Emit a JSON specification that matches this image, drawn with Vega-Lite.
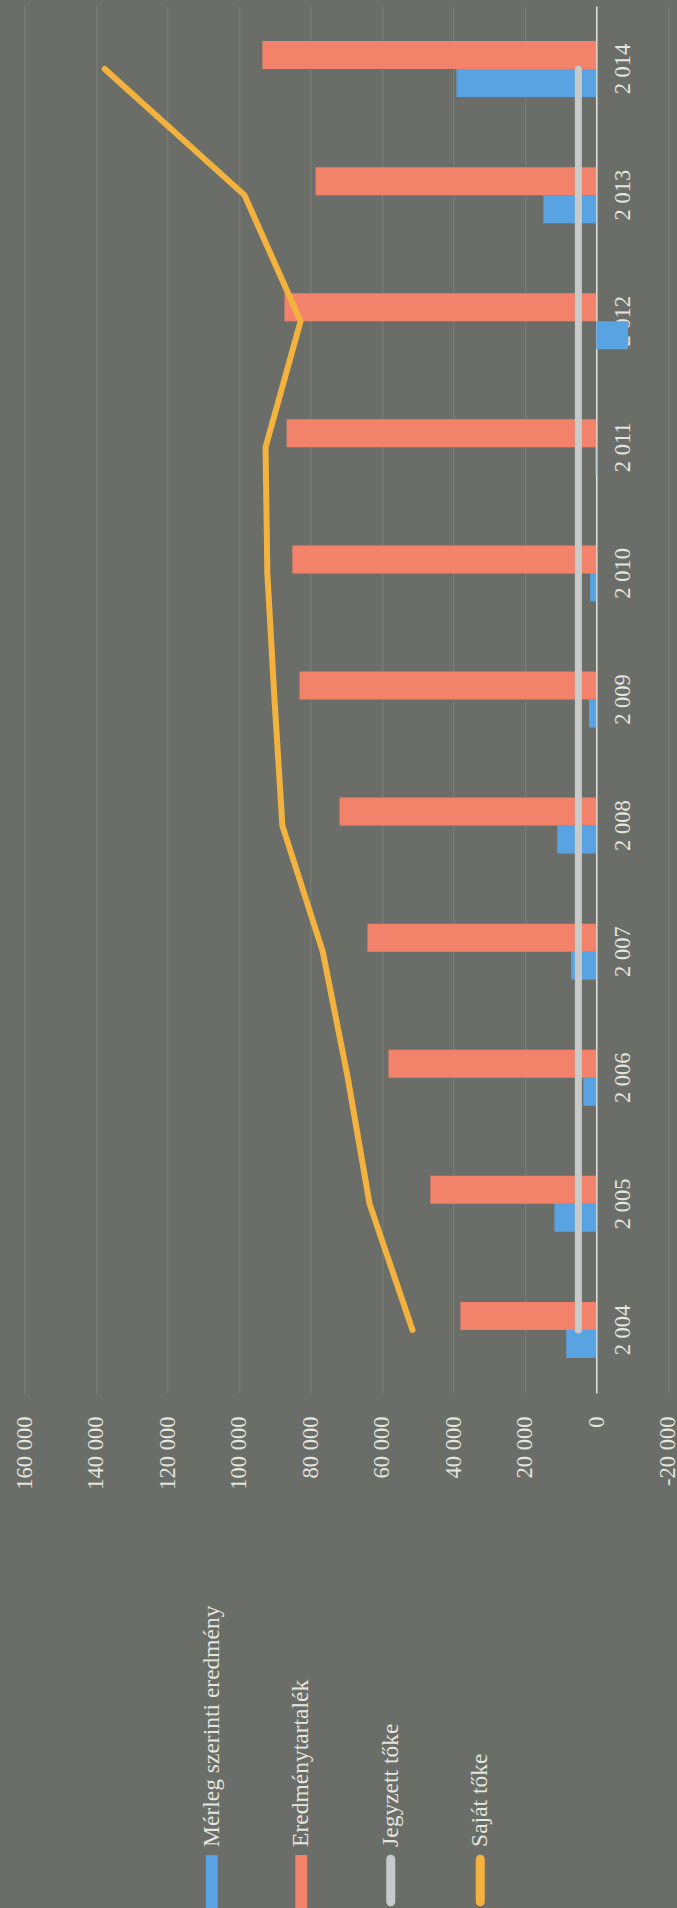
{
  "$schema": "https://vega.github.io/schema/vega-lite/v6.json",
  "background": "#6b6e68",
  "padding": {"left": 13, "top": 6, "right": 0, "bottom": 0},
  "config": {
    "view": {"stroke": null},
    "font": "Liberation Serif",
    "axis": {"labelFont": "Liberation Serif", "labelColor": "#e4e5df", "labelFontSize": 22.5}
  },
  "datasets": {
    "main": [
      {"year": "2 004", "series": "Mérleg szerinti eredmény", "value": 8400},
      {"year": "2 005", "series": "Mérleg szerinti eredmény", "value": 11700},
      {"year": "2 006", "series": "Mérleg szerinti eredmény", "value": 3600},
      {"year": "2 007", "series": "Mérleg szerinti eredmény", "value": 7000},
      {"year": "2 008", "series": "Mérleg szerinti eredmény", "value": 10900},
      {"year": "2 009", "series": "Mérleg szerinti eredmény", "value": 2000},
      {"year": "2 010", "series": "Mérleg szerinti eredmény", "value": 1700},
      {"year": "2 011", "series": "Mérleg szerinti eredmény", "value": 300},
      {"year": "2 012", "series": "Mérleg szerinti eredmény", "value": -8900},
      {"year": "2 013", "series": "Mérleg szerinti eredmény", "value": 14800},
      {"year": "2 014", "series": "Mérleg szerinti eredmény", "value": 39100},
      {"year": "2 004", "series": "Eredménytartalék", "value": 38000},
      {"year": "2 005", "series": "Eredménytartalék", "value": 46400},
      {"year": "2 006", "series": "Eredménytartalék", "value": 58100},
      {"year": "2 007", "series": "Eredménytartalék", "value": 64000},
      {"year": "2 008", "series": "Eredménytartalék", "value": 71800},
      {"year": "2 009", "series": "Eredménytartalék", "value": 83000},
      {"year": "2 010", "series": "Eredménytartalék", "value": 85000},
      {"year": "2 011", "series": "Eredménytartalék", "value": 86600},
      {"year": "2 012", "series": "Eredménytartalék", "value": 87200},
      {"year": "2 013", "series": "Eredménytartalék", "value": 78500},
      {"year": "2 014", "series": "Eredménytartalék", "value": 93400},
      {"year": "2 004", "series": "Jegyzett tőke", "value": 5000},
      {"year": "2 005", "series": "Jegyzett tőke", "value": 5000},
      {"year": "2 006", "series": "Jegyzett tőke", "value": 5000},
      {"year": "2 007", "series": "Jegyzett tőke", "value": 5000},
      {"year": "2 008", "series": "Jegyzett tőke", "value": 5000},
      {"year": "2 009", "series": "Jegyzett tőke", "value": 5000},
      {"year": "2 010", "series": "Jegyzett tőke", "value": 5000},
      {"year": "2 011", "series": "Jegyzett tőke", "value": 5000},
      {"year": "2 012", "series": "Jegyzett tőke", "value": 5000},
      {"year": "2 013", "series": "Jegyzett tőke", "value": 5000},
      {"year": "2 014", "series": "Jegyzett tőke", "value": 5000},
      {"year": "2 004", "series": "Saját tőke", "value": 51400},
      {"year": "2 005", "series": "Saját tőke", "value": 63400},
      {"year": "2 006", "series": "Saját tőke", "value": 69500},
      {"year": "2 007", "series": "Saját tőke", "value": 76500},
      {"year": "2 008", "series": "Saját tőke", "value": 87800},
      {"year": "2 009", "series": "Saját tőke", "value": 90000},
      {"year": "2 010", "series": "Saját tőke", "value": 92000},
      {"year": "2 011", "series": "Saját tőke", "value": 92500},
      {"year": "2 012", "series": "Saját tőke", "value": 82700},
      {"year": "2 013", "series": "Saját tőke", "value": 98400},
      {"year": "2 014", "series": "Saját tőke", "value": 137500}
    ],
    "legend": [
      {"series": "Mérleg szerinti eredmény"},
      {"series": "Eredménytartalék"},
      {"series": "Jegyzett tőke"},
      {"series": "Saját tőke"}
    ]
  },
  "vconcat": [
    {
      "width": 643.5,
      "height": 1387,
      "data": {"name": "main"},
      "encoding": {
        "y": {
          "field": "year", "type": "ordinal",
          "sort": ["2 014", "2 013", "2 012", "2 011", "2 010", "2 009", "2 008", "2 007", "2 006", "2 005", "2 004"],
          "scale": {"paddingInner": 0.556, "paddingOuter": 0.278},
          "axis": {
            "orient": "right", "offset": -71.5, "title": null,
            "labelAngle": -90, "labelAlign": "center", "labelBaseline": "top",
            "labelPadding": 15, "ticks": false,
            "domainColor": "#e2e3de", "domainWidth": 1.5, "grid": false
          }
        },
        "x": {
          "field": "value", "type": "quantitative",
          "scale": {"domain": [-20000, 160000], "reverse": true, "nice": false, "zero": false},
          "axis": {
            "orient": "bottom", "title": null,
            "values": [-20000, 0, 20000, 40000, 60000, 80000, 100000, 120000, 140000, 160000],
            "labelExpr": "replace(replace(format(datum.value, ','), /,/g, ' '), '−', '-')",
            "labelAngle": -90, "labelAlign": "right", "labelBaseline": "middle",
            "labelPadding": 23, "ticks": false, "domain": false,
            "grid": true, "gridColor": "#8a8d86", "gridWidth": 1, "gridOpacity": 0.6
          }
        }
      },
      "layer": [
        {
          "transform": [{"filter": {"field": "series", "oneOf": ["Mérleg szerinti eredmény", "Eredménytartalék"]}}],
          "mark": {"type": "bar"},
          "encoding": {
            "yOffset": {"field": "series", "type": "nominal", "sort": ["Eredménytartalék", "Mérleg szerinti eredmény"]},
            "color": {
              "field": "series", "type": "nominal", "legend": null,
              "scale": {"domain": ["Mérleg szerinti eredmény", "Eredménytartalék", "Jegyzett tőke", "Saját tőke"],
                        "range": ["#5aa3e2", "#f3826b", "#c8cac9", "#f3b23e"]}
            }
          }
        },
        {
          "transform": [{"filter": {"field": "series", "equal": "Jegyzett tőke"}}],
          "mark": {"type": "line", "strokeWidth": 7, "strokeCap": "round", "color": "#c8cac9"},
          "encoding": {}
        },
        {
          "transform": [{"filter": {"field": "series", "equal": "Saját tőke"}}],
          "mark": {"type": "line", "strokeWidth": 6, "strokeCap": "round", "strokeJoin": "round", "color": "#f3b23e"},
          "encoding": {}
        }
      ]
    },
    {
      "width": 447.5,
      "height": 315,
      "data": {"name": "legend"},
      "encoding": {
        "x": {
          "field": "series", "type": "nominal",
          "sort": ["Mérleg szerinti eredmény", "Eredménytartalék", "Jegyzett tőke", "Saját tőke"],
          "scale": {"type": "point", "padding": 1},
          "axis": null
        }
      },
      "layer": [
        {
          "transform": [{"filter": {"field": "series", "oneOf": ["Mérleg szerinti eredmény", "Eredménytartalék"]}}],
          "mark": {"type": "rule", "strokeWidth": 12, "strokeCap": "butt"},
          "encoding": {
            "y": {"datum": 0.0, "type": "quantitative", "scale": {"domain": [0, 1]}, "axis": null},
            "y2": {"datum": 0.168},
            "color": {
              "field": "series", "type": "nominal", "legend": null,
              "scale": {"domain": ["Mérleg szerinti eredmény", "Eredménytartalék", "Jegyzett tőke", "Saját tőke"],
                        "range": ["#5aa3e2", "#f3826b", "#c8cac9", "#f3b23e"]}
            }
          }
        },
        {
          "transform": [{"filter": {"field": "series", "oneOf": ["Jegyzett tőke", "Saját tőke"]}}],
          "mark": {"type": "rule", "strokeWidth": 9, "strokeCap": "round"},
          "encoding": {
            "y": {"datum": 0.02, "type": "quantitative", "scale": {"domain": [0, 1]}, "axis": null},
            "y2": {"datum": 0.155},
            "color": {"field": "series", "type": "nominal", "legend": null}
          }
        },
        {
          "mark": {"type": "text", "angle": -90, "align": "left", "baseline": "middle", "fontSize": 23.5, "font": "Liberation Serif", "color": "#e4e5df"},
          "encoding": {
            "y": {"datum": 0.194, "type": "quantitative", "scale": {"domain": [0, 1]}, "axis": null},
            "text": {"field": "series"}
          }
        }
      ]
    }
  ],
  "spacing": 200,
  "bounds": "flush",
  "center": true
}
